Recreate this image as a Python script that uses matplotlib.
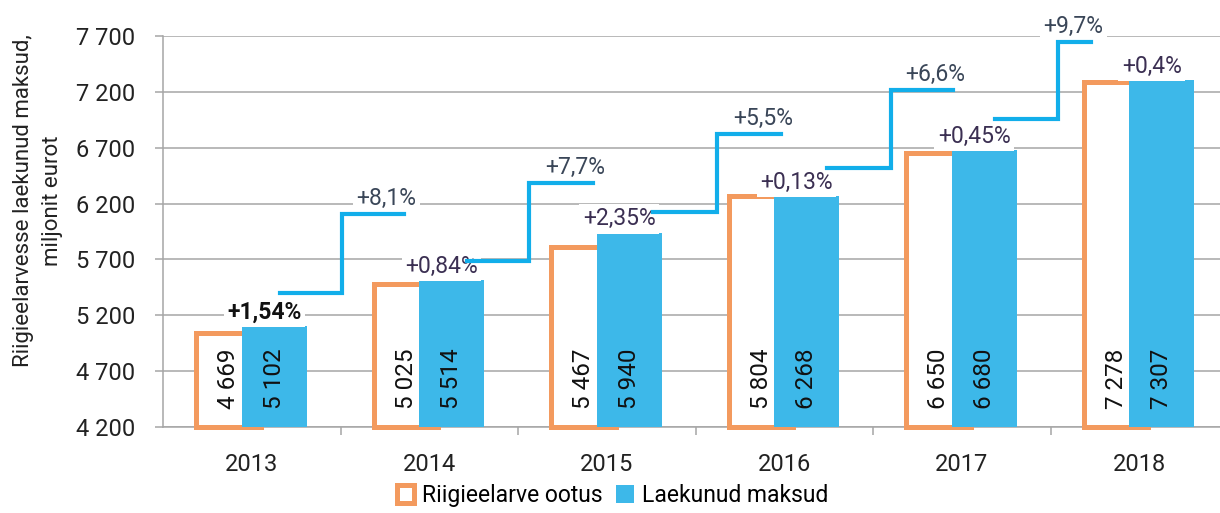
import numpy as np
import matplotlib
matplotlib.use("Agg")
import matplotlib.pyplot as plt
from matplotlib.patches import Rectangle

plt.rcParams['font.family'] = ['Roboto', 'DejaVu Sans']

years = ['2013', '2014', '2015', '2016', '2017', '2018']
# labels printed on the bars
ootus = [4669, 5025, 5467, 5804, 6650, 7278]
laekunud = [5102, 5514, 5940, 6268, 6680, 7307]
# heights of the orange frames as drawn in the picture
ootus_drawn = [5037, 5480, 5807, 6268, 6657, 7284]
diff_labels = ['+1,54%', '+0,84%', '+2,35%', '+0,13%', '+0,45%', '+0,4%']

# yearly growth steps
growth_labels = ['+8,1%', '+7,7%', '+5,5%', '+6,6%', '+9,7%']
step_low = [5399, 5686, 6124, 6518, 6957]
step_high = [6107, 6384, 6823, 7217, 7646]

orange = '#f39a5e'
blue = '#3db8e9'
step_blue = '#12aeea'
grid_col = '#a6a6a6'

fig = plt.figure(figsize=(12.2, 5.13), dpi=100)
ax = fig.add_axes([163/1220, (513-427)/513, (1220-163)/1220, (427-36)/513])

x = np.arange(len(years))
base = 4200
ax.bar(x - 0.13, np.array(ootus_drawn) - base, width=0.363, bottom=base,
       facecolor='white', edgecolor=orange, linewidth=3.6, zorder=3, clip_on=False)
ax.bar(x + 0.128, np.array(laekunud) - base, width=0.366, bottom=base,
       color=blue, zorder=4)

for i in range(len(years)):
    ax.annotate(f"{ootus[i]:,}".replace(',', ' '), (x[i] - 0.13, base), xytext=(0, 13),
                textcoords='offset points', rotation=90, ha='center', va='bottom',
                fontsize=17.5, color='#111111', zorder=6)
    ax.annotate(f"{laekunud[i]:,}".replace(',', ' '), (x[i] + 0.128, base), xytext=(0, 13),
                textcoords='offset points', rotation=90, ha='center', va='bottom',
                fontsize=17.5, color='#111111', zorder=6)
    bold = i == 0
    ax.annotate(diff_labels[i], (x[i] + 0.07, laekunud[i]), xytext=(0, 10),
                textcoords='offset points', ha='center', va='center',
                fontsize=16.5, fontweight='bold' if bold else 'normal',
                color='#111111' if bold else '#3b2f52', zorder=7,
                bbox=dict(boxstyle='square,pad=0.15', fc='white', ec='none'))

# step offsets inside each year slot (start, jump, end)
step_start = [0.16, 0.21, 0.26, 0.24, 0.19]
step_mid = [0.51, 0.56, 0.62, 0.60, 0.54]
step_end = [0.86, 0.92, 0.98, 0.95, 0.73]
for i in range(len(growth_labels)):
    xs = [i + step_start[i], i + step_mid[i], i + step_mid[i], i + step_end[i]]
    ys = [step_low[i], step_low[i], step_high[i], step_high[i]]
    ax.plot(xs, ys, color=step_blue, linewidth=3, zorder=8, clip_on=False,
            solid_joinstyle='miter')
    ax.annotate(growth_labels[i], (i + step_end[i] - 0.1, step_high[i]), xytext=(0, 11),
                textcoords='offset points', ha='center', va='center',
                fontsize=16.5, color='#3a4658', zorder=7, annotation_clip=False,
                bbox=dict(boxstyle='square,pad=0.15', fc='white', ec='none'))

ax.set_ylim(4200, 7700)
ax.set_xlim(-0.5, 5.5 - 8/177.5)
yt = np.arange(4200, 7701, 500)
ax.set_yticks(yt)
ax.set_yticklabels([f"{v:,}".replace(',', ' ') for v in yt], fontsize=17, color='#222222')
ax.set_xticks(x[:-1] + 0.5)
ax.set_xticklabels([])
ax.set_xticks(x, minor=True)
ax.set_xticklabels(years, minor=True, fontsize=17, color='#222222')
ax.tick_params(axis='y', length=6, width=1.1, color=grid_col, pad=14)
ax.tick_params(axis='x', which='major', length=6, width=1.1, color=grid_col)
ax.tick_params(axis='x', which='minor', length=0, pad=19)
ax.yaxis.grid(True, color=grid_col, linewidth=1.1)
ax.set_axisbelow(True)
for s in ['top', 'right']:
    ax.spines[s].set_visible(False)
for s in ['left', 'bottom']:
    ax.spines[s].set_color(grid_col)
    ax.spines[s].set_linewidth(1.1)

fig.text(38/1220, 1 - 201/513, 'Riigieelarvesse laekunud maksud,\nmiljonit eurot',
         rotation=90, ha='center', va='center', multialignment='center',
         fontsize=16, color='#222222', linespacing=1.45)

handles = [Rectangle((0, 0), 1, 1, facecolor='white', edgecolor=orange, linewidth=3.6),
           Rectangle((0, 0), 1, 1, facecolor=blue, edgecolor='none')]
fig.legend(handles, ['Riigieelarve ootus', 'Laekunud maksud'], loc='lower center',
           bbox_to_anchor=(0.502, -0.028), ncol=2, frameon=False, fontsize=16.5,
           handlelength=0.75, handleheight=0.85, handletextpad=0.35, columnspacing=0.6)

fig.savefig('out.png', dpi=100)
